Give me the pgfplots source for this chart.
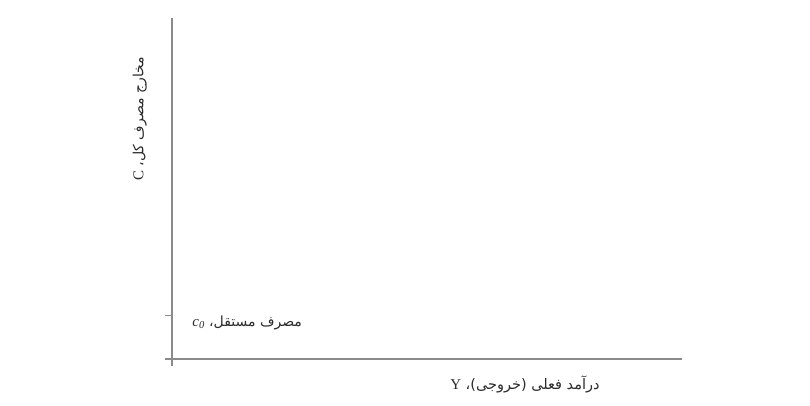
\documentclass[border=0pt]{standalone}
\usepackage{pgfplots}
\pgfplotsset{compat=1.18}
\usepackage{fontspec}
\setmainfont{Liberation Serif}
\newfontfamily\arabicfont[Script=Arabic]{DejaVu Sans}
\TeXXeTstate=1
\definecolor{axgray}{HTML}{8A8A8A}
\definecolor{txt}{HTML}{2A2A2A}
\newcommand\lat[1]{{\fontsize{15}{17}\selectfont\rmfamily #1}}
\begin{document}
\begin{tikzpicture}
\begin{axis}[
  name=ax,
  scale only axis,
  width=510pt, height=341pt,
  xmin=0, xmax=1, ymin=0, ymax=1,
  axis lines=left,
  axis line style={axgray, line width=1.2pt, -},
  xtick={0}, ytick={0,0.1276},
  xticklabels={}, yticklabels={},
  tick style={axgray, line width=1.2pt},
  major tick length=7pt,
  tick align=outside,
  clip=false,
]
\addplot[draw=none, forget plot] coordinates {(0,0) (1,1)};
\node[anchor=west, text=txt, font=\fontsize{14}{16}\selectfont] at (rel axis cs:0.033,0.1056)
  {\beginR\arabicfont مصرف مستقل، \lat{\beginL\itshape c\textsubscript{0}\endL}\endR};
\node[text=txt, font=\fontsize{14.5}{16}\selectfont] at (rel axis cs:0.692,-0.076)
  {\beginR\arabicfont درآمد فعلی (خروجی)، \lat{Y}\endR};
\node[text=txt, rotate=90, font=\fontsize{14}{16}\selectfont] at (rel axis cs:-0.063,0.704)
  {\beginR\arabicfont مخارج مصرف کل، \lat{C}\endR};
\end{axis}
\pgfresetboundingbox
\path[use as bounding box] (ax.south west) ++(-172pt,-47pt) rectangle ++(810pt,406pt);
\end{tikzpicture}
\end{document}
